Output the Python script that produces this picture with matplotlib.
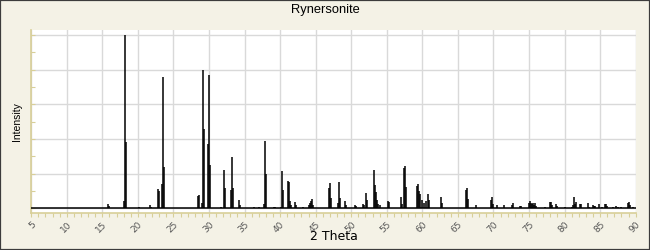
import matplotlib
matplotlib.use("Agg")
import matplotlib.pyplot as plt
import numpy as np
from matplotlib.ticker import MultipleLocator, NullFormatter
from matplotlib.patches import Rectangle


TITLE = "Rynersonite"

# stick pattern: 2-theta position and relative intensity
POSITIONS = [
    15.86, 15.98, 18.11, 18.25, 18.39, 20.2, 21.76, 21.9, 22.88, 23.02,
    23.44, 23.58, 23.72, 28.5, 28.64, 29.06, 29.2, 29.34, 29.9, 30.04,
    30.18, 31.64, 32.15, 32.29, 33.13, 33.27, 33.4, 34.25, 34.39, 36.36,
    37.06, 37.77, 37.91, 38.05, 39.1, 39.3, 40.15, 40.3, 40.44, 41.14,
    41.28, 41.42, 41.56, 42.03, 42.17, 43.24, 44.1, 44.24, 44.38, 44.52,
    44.66, 46.9, 47.04, 47.18, 48.16, 48.3, 48.44, 49.14, 49.28, 50.55,
    50.69, 51.6, 51.74, 52.09, 52.23, 53.21, 53.35, 53.49, 53.63, 53.77,
    54.05, 55.19, 55.33, 57.02, 57.16, 57.44, 57.58, 57.72, 59.27, 59.41,
    59.55, 59.69, 59.9, 60.3, 60.58, 60.86, 61.0, 62.58, 62.72, 66.15,
    66.29, 66.43, 67.5, 69.65, 69.79, 69.93, 70.5, 71.48, 72.6, 72.74,
    73.7, 73.9, 74.99, 75.13, 75.27, 75.41, 75.55, 75.7, 75.83, 75.97,
    77.25, 77.95, 78.09, 78.23, 78.8, 78.94, 80.04, 81.03, 81.17, 81.31,
    81.45, 81.59, 82.15, 82.29, 83.27, 83.4, 83.97, 84.11, 84.25, 84.82,
    85.24, 85.66, 85.8, 85.94, 86.78, 87.2, 87.48, 87.9, 88.89, 89.03,
    89.17, 89.6,
]
INTENSITIES = [
    2.3, 1.2, 4, 100, 38, 1, 1.8, 1, 11, 10,
    14, 76, 24, 7, 7.5, 3, 80, 46, 37, 77,
    25, 1, 22, 11.5, 10.4, 29.5, 11.5, 4.6, 2, 1,
    1, 2.5, 38.7, 19.8, 1, 1, 1, 21.4, 10.8, 15.6,
    15, 4, 2, 3.5, 2, 1, 2, 3, 4.5, 5.2,
    2, 11.7, 14.6, 6, 3, 15.2, 6, 4, 2, 2,
    1.5, 2.5, 2, 8.8, 4.6, 22, 13.3, 9.4, 5, 2.5,
    2, 4, 3.5, 6.4, 2.5, 23, 24.5, 12.3, 13, 14,
    10, 8, 5, 3, 4.4, 8.3, 5, 6.5, 3, 10.8,
    11.5, 5.2, 2, 4.6, 6.4, 2.5, 1.8, 2, 2, 3,
    1.5, 1.5, 3, 4, 3, 2.5, 3, 2, 3, 1.5,
    1, 3.5, 3.5, 2, 2.5, 1.5, 1, 1, 2, 6.4,
    2.5, 3.5, 2.5, 2.5, 3, 1, 2, 1.5, 1.5, 2.5,
    1, 2.5, 2.5, 1.5, 1, 1.5, 1, 1, 3, 3.5,
    2, 1,
]

X_RANGE = (5, 90)

BG = "#f4f2e6"
TAN = "#d8cf98"
GRID = "#d9d9d9"


def main():
    fig = plt.figure(figsize=(6.5, 2.5), dpi=100, facecolor=BG)
    fig.patches.append(Rectangle((0, 0), 1, 1, transform=fig.transFigure,
                                 fill=False, edgecolor="#3c3c3c", lw=1.6))
    ax = fig.add_axes([0.048, 0.148, 0.930, 0.732])
    ax.set_facecolor("white")

    x = np.asarray(POSITIONS)
    y = np.asarray(INTENSITIES)
    ax.vlines(x, 0, y, color="black", lw=1.1, zorder=3)
    ax.plot(X_RANGE, [0, 0], color="black", lw=1.1, zorder=3)

    ax.set_xlim(*X_RANGE)
    ax.set_ylim(-2.7, 102.9)

    ax.xaxis.set_major_locator(MultipleLocator(5))
    ax.xaxis.set_minor_locator(MultipleLocator(1))
    ax.yaxis.set_major_locator(MultipleLocator(20))
    ax.yaxis.set_minor_locator(MultipleLocator(10))
    ax.yaxis.set_major_formatter(NullFormatter())

    ax.grid(which="major", color=GRID, lw=1.0, zorder=0)
    ax.set_axisbelow(True)

    for side in ("top", "right"):
        ax.spines[side].set_visible(False)
    for side in ("left", "bottom"):
        ax.spines[side].set_color(TAN)
        ax.spines[side].set_linewidth(1.2)

    ax.tick_params(axis="x", which="both", direction="out", length=3,
                   color=TAN, width=0.8, labelsize=6.5, labelcolor="#555555", pad=2)
    ax.tick_params(axis="y", which="both", direction="in", length=3,
                   color=TAN, width=0.8)
    for lbl in ax.get_xticklabels():
        lbl.set_rotation(45)
        lbl.set_ha("right")
        lbl.set_va("top")
        lbl.set_rotation_mode("anchor")

    ax.set_xlabel("2 Theta", fontsize=9, labelpad=-3)
    ax.set_ylabel("Intensity", family="Liberation Sans", fontsize=7.5, labelpad=3)
    fig.text(0.5, 0.958, TITLE, ha="center", va="center",
             family="Liberation Sans", fontsize=9.3)

    fig.savefig("out.png", dpi=100, facecolor=BG)
    plt.close(fig)


if __name__ == "__main__":
    main()
